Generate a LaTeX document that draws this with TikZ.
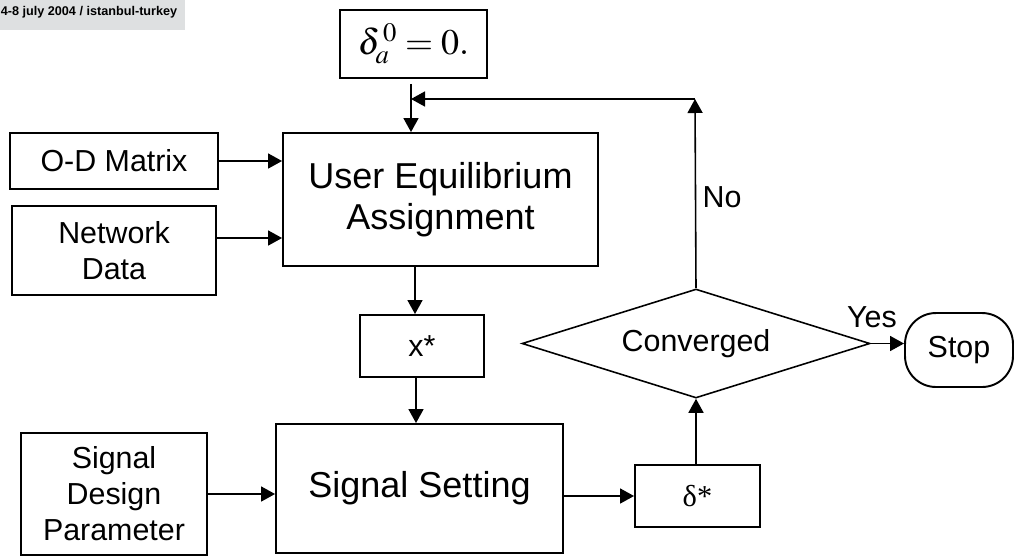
\documentclass[tikz,border=0pt]{standalone}
\usepackage{mathptmx}
\usepackage[no-math]{fontspec}
\setmainfont{Liberation Sans}
\newfontfamily\timesfont{Liberation Serif}
\usetikzlibrary{arrows.meta,shapes.geometric}
\definecolor{fcBand}{HTML}{DEE0E1}
\tikzset{
  fc diagram/.style={x=0.02cm, y=-0.02cm, text=black},
  fc box/.style={draw=black, line width=1.1pt, fill=white, align=center,
    inner sep=2pt, font=\fontsize{17.3}{20.5}\selectfont},
  fc big box/.style={fc box, font=\fontsize{20.5}{23}\selectfont},
  fc test/.style={draw=black, line width=0.9pt, shape=diamond, aspect=3.2,
    inner sep=0pt, font=\fontsize{17.3}{20.5}\selectfont},
  fc end/.style={fc box, rounded corners=0.62cm},
  fc arrow/.style={-{Triangle[length=2.8mm,width=3mm]}, line width=0.9pt},
  fc label/.style={font=\fontsize{17.3}{20.5}\selectfont, inner sep=0pt}
}
\begin{document}
\begin{tikzpicture}[fc diagram]
\useasboundingbox (0,0) rectangle (1018,556);
% conference band
\fill[fcBand] (0,0) rectangle (185,30);
\node[font=\fontsize{7.2}{8}\selectfont\bfseries, inner sep=0pt] (band) at (89,12) {4-8 july 2004 / istanbul-turkey};

\node[fc big box, minimum width=2.94cm, minimum height=1.36cm] (init) at (413.5,44) {$\delta^{\,0}_{a}= 0.$};
\node[fc big box, minimum width=6.3cm, minimum height=2.66cm] (uea) at (440.5,199.5) {User Equilibrium\\Assignment};
\node[fc box, minimum width=4.16cm, minimum height=1.12cm] (od) at (114,161) {O-D Matrix};
\node[fc box, minimum width=4.08cm, minimum height=1.78cm] (net) at (114,250.5) {Network\\Data};
\node[fc box, minimum width=2.48cm, minimum height=1.24cm] (xstar) at (422,346) {x*};
\node[fc big box, minimum width=5.74cm, minimum height=2.58cm] (sigset) at (419.5,488.5) {Signal Setting};
\node[fc box, minimum width=3.72cm, minimum height=2.44cm] (sdp) at (114,494) {Signal\\Design\\Parameter};
\node[fc box, minimum width=2.5cm, minimum height=1.24cm] (dstar) at (697.5,496) {\timesfont δ*};
\node[fc test, minimum width=6.96cm, minimum height=2.18cm] (conv) at (696,343.5) {Converged};
\node[fc end, minimum width=2.16cm, minimum height=1.48cm] (stop) at (959,350) {Stop};
\node[fc label] (yes) at (872,317) {Yes};
\node[fc label] (no) at (722,197) {No};
\coordinate (loop) at (695,99);

\draw[fc arrow, shorten <=0.1cm] ([xshift=-0.05cm]init.south) -- ([xshift=-0.05cm]init.south |- uea.north);
\draw[fc arrow] (od.east) -- (od.east -| uea.west);
\draw[fc arrow] ([yshift=0.25cm]net.east) -- ([yshift=0.25cm]net.east -| uea.west);
\draw[fc arrow] ([xshift=-0.14cm]xstar.north |- uea.south) -- ([xshift=-0.14cm]xstar.north);
\draw[fc arrow] ([xshift=-0.12cm]xstar.south) -- ([xshift=-0.12cm]xstar.south |- sigset.north);
\draw[fc arrow] (sdp.east) -- (sdp.east -| sigset.west);
\draw[fc arrow] (dstar.west -| sigset.east) -- (dstar.west);
\draw[fc arrow] (dstar.north -| conv.south) -- (conv.south);
\draw[fc arrow] (conv.east) -- (conv.east -| stop.west);
\draw[fc arrow] (conv.north) -- (loop);
\draw[fc arrow] (loop) -- ([xshift=-0.05cm]loop -| init.south);
\end{tikzpicture}
\end{document}
